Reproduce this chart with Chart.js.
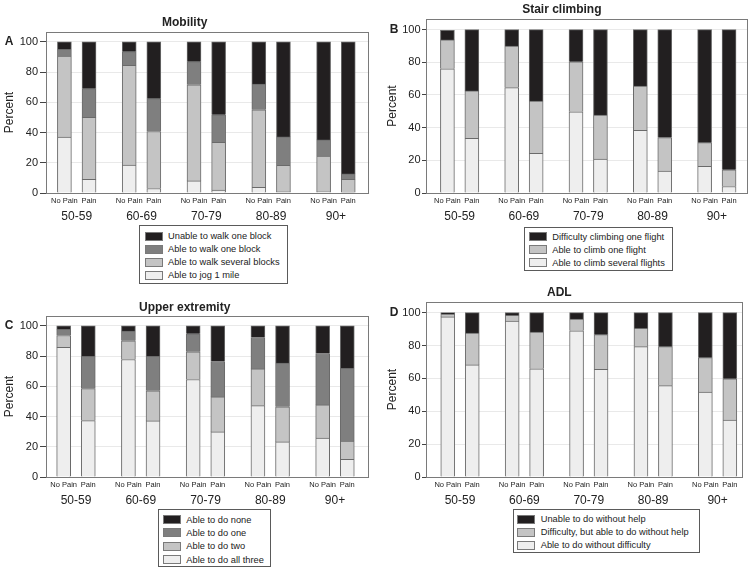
<!DOCTYPE html>
<html>
<head>
<meta charset="utf-8">
<script src="https://cdn.jsdelivr.net/npm/chart.js@4.4.1/dist/chart.umd.min.js"></script>
<style>
  body { margin: 0; background: #fff; }
  #page { position: relative; width: 753px; height: 572px; background: #fff; overflow: hidden; }
  canvas { position: absolute; }
  .legend {
    position: absolute; box-sizing: border-box; border: 1px solid #5a5a5a; background: #fff;
    font-family: "Liberation Sans", Arial, sans-serif; font-size: 9.3px; color: #222;
  }
  .legend .row { height: 13px; display: flex; align-items: center; white-space: nowrap; }
  .legend .sw { width: 18px; height: 9px; box-sizing: border-box; border: 1px solid #7a7a7a; margin-right: 5.5px; }
</style>
</head>
<body>
<div id="page">
  <canvas id="chartA" width="376" height="226" style="left:0px;top:0px"></canvas>
  <canvas id="chartB" width="377" height="226" style="left:376px;top:0px"></canvas>
  <canvas id="chartC" width="376" height="222" style="left:0px;top:288px"></canvas>
  <canvas id="chartD" width="377" height="226" style="left:376px;top:284px"></canvas>
  <div id="legendA" class="legend" style="left:139px;top:225px;width:149px;height:59px;padding:3.5px 0 0 4.5px"></div>
  <div id="legendB" class="legend" style="left:524px;top:227px;width:149px;height:44px;padding:2.2px 0 0 3.7px"></div>
  <div id="legendC" class="legend" style="left:158px;top:509px;width:113px;height:58px;padding:3px 0 0 3.8px"></div>
  <div id="legendD" class="legend" style="left:513px;top:509px;width:187px;height:44px;padding:2.5px 0 0 3.2px"></div>
</div>
<script>
const ageGroups = ['50-59', '60-69', '70-79', '80-89', '90+'];
const painLabels = ['No Pain', 'Pain'];

// A - Mobility (bottom to top)
const mobilityLabels = ['Able to jog 1 mile', 'Able to walk several blocks', 'Able to walk one block', 'Unable to walk one block'];
const mobJogNoPain = [37, 18.5, 8, 3.8, 1.1];
const mobJogPain = [9, 3, 2, 0.7, 0.5];
const mobSeveralNoPain = [53.5, 66, 63.6, 51.2, 23.4];
const mobSeveralPain = [41, 37.7, 31.6, 17.6, 8.5];
const mobOneNoPain = [4.6, 9, 15.3, 17, 10.6];
const mobOnePain = [19, 21.7, 18.1, 18.8, 3.6];
const mobUnableNoPain = [4.9, 6.5, 13.1, 28, 64.9];
const mobUnablePain = [31, 37.6, 48.3, 62.9, 87.4];

// B - Stair climbing
const stairLabels = ['Able to climb several flights', 'Able to climb one flight', 'Difficulty climbing one flight'];
const stairSeveralNoPain = [76, 64.5, 49.7, 38.3, 16.4];
const stairSeveralPain = [33.5, 24.3, 20.7, 13.4, 4];
const stairOneNoPain = [17.7, 25.4, 30.6, 27.2, 14.4];
const stairOnePain = [29, 31.9, 27, 20.5, 10.2];
const stairDiffNoPain = [5.8, 10.1, 19.7, 34.5, 69.2];
const stairDiffPain = [37.5, 43.8, 52.3, 66.1, 85.8];

// C - Upper extremity
const upperLabels = ['Able to do all three', 'Able to do two', 'Able to do one', 'Able to do none'];
const upperAllNoPain = [85.7, 77.7, 64.5, 47.2, 25.8];
const upperAllPain = [37.3, 37.1, 29.8, 23.2, 11.7];
const upperTwoNoPain = [7.9, 12.4, 18.3, 24.3, 21.9];
const upperTwoPain = [21.2, 19.9, 23.2, 23.2, 12.1];
const upperOneNoPain = [4, 6.4, 11.9, 20.8, 34];
const upperOnePain = [21.4, 22.9, 23.4, 28.9, 48.1];
const upperNoneNoPain = [2.4, 3.5, 5.3, 7.7, 18.3];
const upperNonePain = [20.1, 20.1, 23.6, 24.7, 28.1];

// D - ADL
const adlLabels = ['Able to do without difficulty', 'Difficulty, but able to do without help', 'Unable to do without help'];
const adlNoDiffNoPain = [97.4, 94.9, 89, 79.3, 51.7];
const adlNoDiffPain = [68.2, 65.9, 65.5, 55.6, 34.7];
const adlDiffNoPain = [1.8, 3.5, 7.1, 11.2, 20.9];
const adlDiffPain = [19.4, 22.3, 21.1, 23.7, 25.1];
const adlUnableNoPain = [0.8, 1.6, 3.9, 9.5, 27.4];
const adlUnablePain = [12.4, 11.8, 13.4, 20.7, 40.2];

const shades4 = ['#eeeeee', '#c4c4c4', '#7f7f7f', '#221f20'];
const shades3 = ['#eeeeee', '#c4c4c4', '#221f20'];

Chart.defaults.font.family = '"Liberation Sans", Arial, sans-serif';
Chart.defaults.color = '#222';

// frame around the plot + panel letter
const panelFrame = {
  id: 'panelFrame',
  afterDraw(chart, args, opts) {
    const ctx = chart.ctx;
    const a = chart.chartArea;
    ctx.save();
    ctx.strokeStyle = '#7a7a7a';
    ctx.lineWidth = 1;
    ctx.strokeRect(Math.round(a.left) + 0.5, Math.round(a.top) + 0.5, Math.round(a.width) - 1, Math.round(a.height));
    ctx.fillStyle = '#222';
    ctx.font = 'bold 12px "Liberation Sans", Arial, sans-serif';
    ctx.textAlign = 'center';
    ctx.textBaseline = 'middle';
    ctx.fillText(opts.letter, opts.letterX, chart.scales.y.getPixelForValue(100));
    ctx.restore();
  }
};

function makePanel(p) {
  const off = 0.19;
  const barPos = [];
  ageGroups.forEach((g, i) => { barPos.push(i + 0.5 - off, i + 0.5 + off); });

  const datasets = p.labels.map((label, k) => ({
    label: label,
    data: ageGroups.flatMap((g, i) => [
      { x: i + 0.5 - off, y: p.noPain[k][i] },
      { x: i + 0.5 + off, y: p.pain[k][i] }
    ]),
    backgroundColor: p.colors[k],
    borderColor: '#6a6a6a',
    borderWidth: 1,
    barThickness: 14
  }));

  const chart = new Chart(document.getElementById(p.id), {
    type: 'bar',
    data: { datasets: datasets },
    plugins: [panelFrame],
    options: {
      responsive: false,
      animation: false,
      devicePixelRatio: 1,
      layout: { padding: { left: 0, right: p.padRight, top: 0, bottom: 0 } },
      plugins: {
        legend: { display: false },
        tooltip: { enabled: false },
        title: {
          display: true,
          text: p.title,
          font: { size: 12, weight: 'bold' },
          color: '#222',
          padding: p.titlePad
        },
        panelFrame: { letter: p.letter, letterX: p.letterX }
      },
      scales: {
        x: {
          type: 'linear',
          min: p.xRange[0],
          max: p.xRange[1],
          offset: false,
          stacked: true,
          grid: { display: false, drawTicks: false },
          border: { display: false },
          afterBuildTicks: s => { s.ticks = barPos.map(v => ({ value: v })); },
          afterFit: s => { s.height = 14; },
          ticks: {
            autoSkip: false, maxRotation: 0, minRotation: 0, padding: 3,
            font: { size: 7.5 }, color: '#222',
            callback: (v, i) => painLabels[i % 2]
          }
        },
        x2: {
          type: 'linear',
          position: 'bottom',
          weight: 1,
          min: p.xRange[0],
          max: p.xRange[1],
          offset: false,
          grid: { display: false, drawTicks: false },
          border: { display: false },
          afterBuildTicks: s => { s.ticks = ageGroups.map((g, i) => ({ value: i + 0.5 })); },
          afterFit: s => { s.height = 19; },
          ticks: {
            autoSkip: false, maxRotation: 0, minRotation: 0, padding: 2,
            font: { size: 12 }, color: '#222',
            callback: (v, i) => ageGroups[i]
          }
        },
        y: {
          stacked: true,
          min: 0,
          max: 106.5,
          afterFit: s => { s.width = p.yWidth; },
          ticks: { stepSize: 20, includeBounds: false, padding: p.tickPad, font: { size: 11 }, color: '#222' },
          grid: { color: '#e9e9e9', tickColor: '#444', tickLength: p.tickLen },
          border: { display: false },
          title: { display: true, text: 'Percent', font: { size: 12 }, color: '#222', padding: { top: p.yTitlePad, bottom: 0 } }
        }
      }
    }
  });

  // html legend, top of stack first
  const box = document.getElementById(p.legendId);
  chart.data.datasets.slice().reverse().forEach(ds => {
    const row = document.createElement('div');
    row.className = 'row';
    row.style.height = p.rowH + 'px';
    const sw = document.createElement('span');
    sw.className = 'sw';
    sw.style.background = ds.backgroundColor;
    const tx = document.createElement('span');
    tx.textContent = ds.label;
    row.appendChild(sw);
    row.appendChild(tx);
    box.appendChild(row);
  });
  return chart;
}

makePanel({
  id: 'chartA', legendId: 'legendA', letter: 'A', letterX: 9, title: 'Mobility',
  labels: mobilityLabels, colors: shades4,
  noPain: [mobJogNoPain, mobSeveralNoPain, mobOneNoPain, mobUnableNoPain],
  pain: [mobJogPain, mobSeveralPain, mobOnePain, mobUnablePain],
  xRange: [0.026, 5.015], padRight: 6.7, yWidth: 46, tickLen: 6, tickPad: 2, yTitlePad: 2,
  titlePad: { top: 15, bottom: 2.6 }, rowH: 13
});

makePanel({
  id: 'chartB', legendId: 'legendB', letter: 'B', letterX: 18, title: 'Stair climbing',
  labels: stairLabels, colors: shades3,
  noPain: [stairSeveralNoPain, stairOneNoPain, stairDiffNoPain],
  pain: [stairSeveralPain, stairOnePain, stairDiffPain],
  xRange: [-0.023, 4.98], padRight: 5.3, yWidth: 50, tickLen: 4, tickPad: 1.5, yTitlePad: 9,
  titlePad: { top: 2.3, bottom: 2.3 }, rowH: 13.1
});

makePanel({
  id: 'chartC', legendId: 'legendC', letter: 'C', letterX: 9, title: 'Upper extremity',
  labels: upperLabels, colors: shades4,
  noPain: [upperAllNoPain, upperTwoNoPain, upperOneNoPain, upperNoneNoPain],
  pain: [upperAllPain, upperTwoPain, upperOnePain, upperNonePain],
  xRange: [0.037, 5.03], padRight: 6.7, yWidth: 46, tickLen: 6, tickPad: 2, yTitlePad: 2,
  titlePad: { top: 12.5, bottom: 1.1 }, rowH: 13.3
});

makePanel({
  id: 'chartD', legendId: 'legendD', letter: 'D', letterX: 18, title: 'ADL',
  labels: adlLabels, colors: shades3,
  noPain: [adlNoDiffNoPain, adlDiffNoPain, adlUnableNoPain],
  pain: [adlNoDiffPain, adlDiffPain, adlUnablePain],
  xRange: [-0.028, 4.89], padRight: 10.3, yWidth: 50, tickLen: 4, tickPad: 1.5, yTitlePad: 9,
  titlePad: { top: 1.5, bottom: 2.1 }, rowH: 13
});
</script>
</body>
</html>
